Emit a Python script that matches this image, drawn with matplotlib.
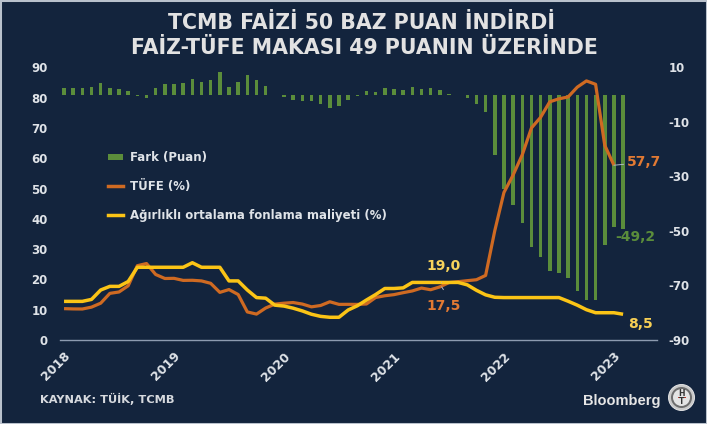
import matplotlib
matplotlib.use('Agg')
import matplotlib.pyplot as plt
from matplotlib.patches import Rectangle, Ellipse, Patch
from matplotlib.lines import Line2D
import numpy as np

# ---------------- data (monthly, Jan 2018 onward) ----------------
years = ['2018', '2019', '2020', '2021', '2022', '2023']
year_pos = [0, 12, 24, 36, 48, 60]

# TÜFE (%), Jan 2018 - Jan 2023
cpi = [10.35, 10.26, 10.23, 10.85, 12.15, 15.39, 15.85, 17.90, 24.52, 25.24, 21.62, 20.30,
       20.35, 19.67, 19.71, 19.50, 18.71, 15.72, 16.65, 15.01, 9.26, 8.55, 10.56, 11.84,
       12.15, 12.37, 11.86, 10.94, 11.39, 12.62, 11.76, 11.77, 11.75, 11.89, 14.03, 14.60,
       14.97, 15.61, 16.19, 17.14, 16.59, 17.53, 18.95, 19.25, 19.58, 19.89, 21.31, 36.08,
       48.69, 54.44, 61.14, 69.97, 73.50, 78.62, 79.60, 80.21, 83.45, 85.51, 84.39, 64.27,
       57.68]

# Ağırlıklı ortalama fonlama maliyeti (%), Jan 2018 - Feb 2023
rate = [12.75, 12.75, 12.75, 13.4, 16.5, 17.7, 17.7, 19.3, 24.0, 24.0, 24.0, 24.0,
        24.0, 24.0, 25.5, 24.0, 24.0, 24.0, 19.5, 19.5, 16.5, 14.0, 13.8, 11.5,
        11.2, 10.5, 9.6, 8.5, 7.8, 7.5, 7.5, 9.9, 11.3, 13.2, 15.0, 17.0,
        17.0, 17.2, 19.0, 19.0, 19.0, 19.0, 19.0, 19.0, 18.2, 16.4, 14.9, 14.1,
        14.0, 14.0, 14.0, 14.0, 14.0, 14.0, 14.0, 12.8, 11.5, 10.0, 9.0, 9.0,
        9.0, 8.5]

# Fark (Puan), Jan 2018 - Feb 2023
gap = [2.4, 2.5, 2.5, 2.6, 4.4, 2.3, 1.9, 1.4, -0.5, -1.2, 2.4, 3.7,
       3.7, 4.3, 5.8, 4.5, 5.3, 8.3, 2.9, 4.5, 7.2, 5.5, 3.2, -0.3,
       -1.0, -1.9, -2.3, -2.4, -3.6, -5.1, -4.3, -1.9, -0.5, 1.3, 1.0, 2.4,
       2.0, 1.6, 2.8, 1.9, 2.4, 1.5, 0.1, -0.3, -1.4, -3.5, -6.4, -22.0,
       -34.7, -40.4, -47.1, -56.0, -59.5, -64.6, -65.6, -67.4, -72.0, -75.5, -75.4, -55.3,
       -48.7, -49.2]

left_ticks = list(range(0, 91, 10))
right_ticks = list(range(-90, 11, 20))

# ---------------- style ----------------
BG = '#13243d'
GREEN = '#5b8d3b'
ORANGE = '#cf6a22'
YELLOW = '#fbc416'
TXT = '#dfe3e8'
LEAD = '#aeb7c5'

plt.rcParams['font.family'] = ['DejaVu Sans']
plt.rcParams['font.weight'] = 'bold'

fig = plt.figure(figsize=(7.07, 4.24), dpi=100, facecolor=BG)
W, H = 707, 424
ax = fig.add_axes([60 / W, 84 / H, 597 / W, 272.7 / H])
ax2 = ax.twinx()
ax.set_zorder(ax2.get_zorder() + 1)
ax.patch.set_visible(False)
ax2.patch.set_visible(False)

x_gap = np.arange(len(gap))
x_cpi = np.arange(len(cpi))
x_rate = np.arange(len(rate))

ax2.bar(x_gap, gap, width=0.38, color=GREEN, linewidth=0)
ax.plot(x_cpi, cpi, color=ORANGE, lw=2.3, solid_joinstyle='round', solid_capstyle='butt')
ax.plot(x_rate, rate, color=YELLOW, lw=2.5, solid_joinstyle='round', solid_capstyle='butt')

ax.set_xlim(-0.44, 64.7)
ax.set_ylim(0, 90)
ax2.set_ylim(-90, 10)

for a in (ax, ax2):
    for s in a.spines.values():
        s.set_visible(False)

ax.axhline(0, color='#8d9bb0', lw=1.0, clip_on=False, zorder=0)

ax.set_yticks(left_ticks)
ax.set_yticklabels([str(t) for t in left_ticks])
ax2.set_yticks(right_ticks)
ax2.set_yticklabels([str(t) for t in right_ticks])
ax.tick_params(axis='y', length=0, pad=9, labelsize=8.5, labelcolor=TXT)
ax2.tick_params(axis='y', length=0, pad=8.5, labelsize=8.5, labelcolor=TXT)
for lab in ax2.get_yticklabels():
    lab.set_horizontalalignment('left')

ax.set_xticks(year_pos)
ax.set_xticklabels(years, rotation=45, ha='right', va='top', rotation_mode='anchor')
ax.tick_params(axis='x', length=0, pad=7, labelsize=9, labelcolor=TXT)
for lab in ax.get_xticklabels():
    lab.set_x(lab.get_position()[0])

# ---------------- annotations ----------------
ax.annotate('57,7', xy=(x_cpi[-1], cpi[-1]), xytext=(9, 2), textcoords='offset points',
            ha='left', va='center', color='#e27a33', fontsize=10, fontweight='bold',
            arrowprops=dict(arrowstyle='-', color=LEAD, lw=0.7, shrinkA=0, shrinkB=0))
ax2.text(60.1, -52.4, '-49,2', ha='left', va='center', color=GREEN, fontsize=10, fontweight='bold')
ax.text(61.5, 5.3, '8,5', ha='left', va='center', color='#f7cf55', fontsize=10, fontweight='bold')
ax.annotate('19,0', xy=(41.2, rate[41]), xytext=(41.4, 24.3), textcoords='data',
            ha='center', va='center', color='#f7d35c', fontsize=10, fontweight='bold',
            arrowprops=dict(arrowstyle='-', color=LEAD, lw=0.7, shrinkA=5, shrinkB=0,
                            connectionstyle='arc3,rad=-0.3'))
ax.annotate('17,5', xy=(41.2, cpi[41]), xytext=(41.4, 11.2), textcoords='data',
            ha='center', va='center', color='#e27a33', fontsize=10, fontweight='bold',
            arrowprops=dict(arrowstyle='-', color=LEAD, lw=0.7, shrinkA=5, shrinkB=0,
                            connectionstyle='arc3,rad=0.3'))

# ---------------- legend ----------------
handles = [Patch(facecolor=GREEN, edgecolor='none'),
           Line2D([0], [0], color=ORANGE, lw=2.5),
           Line2D([0], [0], color=YELLOW, lw=2.5)]
labels = ['Fark (Puan)', 'TÜFE (%)', 'Ağırlıklı ortalama fonlama maliyeti (%)']
leg = fig.legend(handles, labels, loc='upper left', bbox_to_anchor=(108 / W, 1 - 151.5 / H),
                 frameon=False, fontsize=8.5, handlelength=1.25, handleheight=0.45,
                 handletextpad=0.6, labelspacing=1.32, borderpad=0, borderaxespad=0)
for t in leg.get_texts():
    t.set_color(TXT)
    t.set_fontweight('bold')

# ---------------- titles & footer ----------------
fig.text(362 / W, 1 - 23 / H, 'TCMB FAİZİ 50 BAZ PUAN İNDİRDİ', ha='center', va='center',
         fontsize=14.8, fontweight='bold', color='#e2e2e2')
fig.text(364 / W, 1 - 48 / H, 'FAİZ-TÜFE MAKASI 49 PUANIN ÜZERİNDE', ha='center', va='center',
         fontsize=14.8, fontweight='bold', color='#e2e2e2')
fig.text(40 / W, 1 - 399 / H, 'KAYNAK: TÜİK, TCMB', ha='left', va='center',
         fontsize=8.2, fontweight='bold', color='#d6d9de')
fig.text(661 / W, 1 - 401 / H, 'Bloomberg', ha='right', va='center', fontsize=10.5,
         fontweight='bold', color='#e6e6e6', family=['Liberation Sans', 'DejaVu Sans'])

# HT logo (simple)
cx, cy = 681.5 / W, 1 - 397.5 / H
for r, fc, ec in [(13, '#c9c9c9', '#eeeeee'), (10.5, '#6e6e6e', 'none'), (8.5, '#e4e4e4', 'none')]:
    fig.add_artist(Ellipse((cx, cy), 2 * r / W, 2 * r / H, facecolor=fc, edgecolor=ec, lw=0.6,
                           transform=fig.transFigure))
fig.text(cx, cy + 3.5 / H, 'H', ha='center', va='center', fontsize=5.5, fontweight='bold', color='#333333')
fig.text(cx, cy - 4 / H, 'T', ha='center', va='center', fontsize=5.5, fontweight='bold', color='#333333')
fig.add_artist(Rectangle((cx - 4 / W, cy - 0.6 / H), 8 / W, 1.2 / H, facecolor='#c0392b',
                         edgecolor='none', transform=fig.transFigure))

# thin border
fig.add_artist(Rectangle((0, 0), 1, 1, facecolor='none', edgecolor='#b9c1cc', lw=2.2,
                         transform=fig.transFigure))

fig.savefig('out.png', dpi=100, facecolor=BG)
